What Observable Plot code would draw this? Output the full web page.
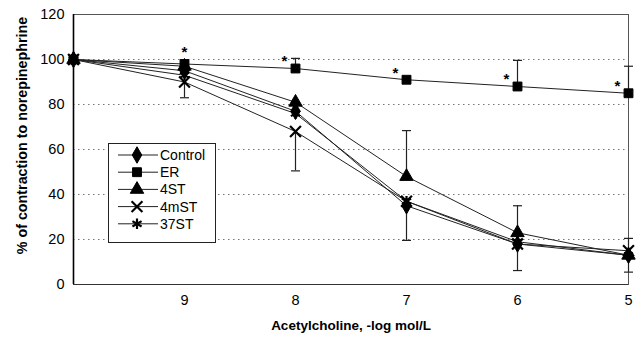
<!DOCTYPE html>
<html><head><meta charset="utf-8">
<script src="https://cdn.jsdelivr.net/npm/d3@7"></script>
<script src="https://cdn.jsdelivr.net/npm/@observablehq/plot@0.6"></script>
<style>
body{margin:0;background:#fff;}
#chart{position:relative;width:641px;height:344px;font-family:Arial,"Liberation Sans",sans-serif;}
#legend{position:absolute;left:108px;top:143px;}
</style></head><body><div id="chart"></div>
<script>
const series = ["Control","ER","4ST","4mST","37ST"];
const symbolNames = ["diamond","square","triangle","times","asterisk"];
const doses = [10,9,8,7,6,5];
const control = [100,95,77,35,18,13];
const er = [100,98,96,91,88,85];
const st4 = [100,97,81,48,23,13];
const mst4 = [100,90,68,37,18,15];
const st37 = [100,93,76,37,19,13];
const errSeries = ["4mST","4mST","ER","4ST","Control","ER","4ST","Control","ER","37ST","Control"];
const errDose = [9,8,8,7,7,6,6,6,5,5,5];
const errEnd = [83,50.5,100.5,68.4,19.6,99.6,35,6.2,97,20.5,5.5];
const starDose = [9,8,7,6,5];
const yTicks = [0,20,40,60,80,100,120];
const gridTicks = [20,40,60,80,100];
const xTicks = [9,8,7,6,5];
const xLabel = "Acetylcholine, -log mol/L";
const yLabel = "% of contraction to norepinephrine";

const valuesBySeries = [control, er, st4, mst4, st37];
const data = series.flatMap((s,i)=>doses.map((d,j)=>({series:s, dose:d, value:valuesBySeries[i][j]})));
const lookup = (s,d)=>valuesBySeries[series.indexOf(s)][doses.indexOf(d)];
const errData = errSeries.map((s,i)=>({series:s, dose:errDose[i], mean:lookup(s,errDose[i]), end:errEnd[i]}));
const starData = starDose.map(d=>({dose:d, value:lookup("ER",d)}));
const capSymbol = {draw(ctx, size){const w = Math.sqrt(size/Math.PI); ctx.moveTo(-w,0); ctx.lineTo(w,0);}};
const strokedSeries = ["4mST","37ST"];

const plot = Plot.plot({
  width:641, height:344,
  marginLeft:73, marginRight:13, marginTop:14, marginBottom:60,
  style:{fontFamily:"Arial, 'Liberation Sans', sans-serif", fontSize:"14.5px", background:"white", color:"black"},
  x:{domain:[10,5], ticks:xTicks},
  y:{domain:[0,120], ticks:yTicks},
  symbol:{domain:series, range:symbolNames},
  marks:[
    Plot.gridY(gridTicks, {stroke:"#777", strokeOpacity:1, strokeDasharray:"1.5,3.5"}),
    Plot.frame({stroke:"#555"}),
    Plot.ruleX([10], {stroke:"black", strokeWidth:1.6}),
    Plot.ruleY([0], {stroke:"#333"}),
    Plot.axisY(yTicks, {tickSize:0, tickPadding:9, label:null}),
    Plot.axisX(xTicks, {tickSize:0, tickPadding:10, label:null}),
    Plot.line(data, {x:"dose", y:"value", z:"series", stroke:"#222", strokeWidth:1}),
    Plot.ruleX(errData, {x:"dose", y1:"mean", y2:"end", stroke:"#222", strokeWidth:1.2}),
    Plot.dot(errData, {x:"dose", y:"end", r:4.5, symbol:capSymbol, stroke:"#222", strokeWidth:1.2}),
    Plot.dot(data.filter(d=>!strokedSeries.includes(d.series)), {x:"dose", y:"value", symbol:"series", fill:"black", stroke:"black", strokeWidth:1, r:5}),
    Plot.dot(data.filter(d=>strokedSeries.includes(d.series)), {x:"dose", y:"value", symbol:"series", stroke:"black", strokeWidth:2.2, r:5}),
    Plot.text(starData.filter(d=>d.dose===9), {x:"dose", y:"value", text:()=>"*", dy:-12, fontSize:15, fontWeight:"bold"}),
    Plot.text(starData.filter(d=>d.dose!==9), {x:"dose", y:"value", text:()=>"*", dx:-11, dy:-7, fontSize:15, fontWeight:"bold"}),
    Plot.text([xLabel], {frameAnchor:"bottom", dy:45, fontSize:13.5, fontWeight:"bold"}),
    Plot.text([yLabel], {frameAnchor:"left", textAnchor:"middle", rotate:-90, dx:-51, dy:-14, fontSize:14.3, fontWeight:"bold"})
  ]
});
const chart = document.getElementById("chart");
chart.appendChild(plot);

// legend
const lw = 108, lh = 100;
const leg = d3.select(chart).append("svg").attr("id","legend").attr("width",lw).attr("height",lh);
leg.append("rect").attr("x",0.5).attr("y",0.5).attr("width",lw-1).attr("height",lh-1).attr("fill","white").attr("stroke","#222");
const d3Symbols = {diamond:d3.symbolDiamond, square:d3.symbolSquare, triangle:d3.symbolTriangle, times:d3.symbolTimes, asterisk:d3.symbolAsterisk};
series.forEach((s,i)=>{
  const y = 12 + i*17.2;
  const stroked = strokedSeries.includes(s);
  const g = leg.append("g").attr("transform",`translate(0,${y})`);
  g.append("line").attr("x1",10).attr("x2",50).attr("y1",0).attr("y2",0).attr("stroke","#222").attr("stroke-width",1);
  g.append("path").attr("transform","translate(29,0)").attr("d",d3.symbol(d3Symbols[symbolNames[i]], Math.PI*25)())
    .attr("fill",stroked?"none":"black").attr("stroke","black").attr("stroke-width",stroked?2.2:1);
  g.append("text").attr("x",52).attr("y",0).attr("dy","0.36em").attr("font-size","14px").attr("font-family","Arial, 'Liberation Sans', sans-serif").text(s);
});
</script></body></html>
